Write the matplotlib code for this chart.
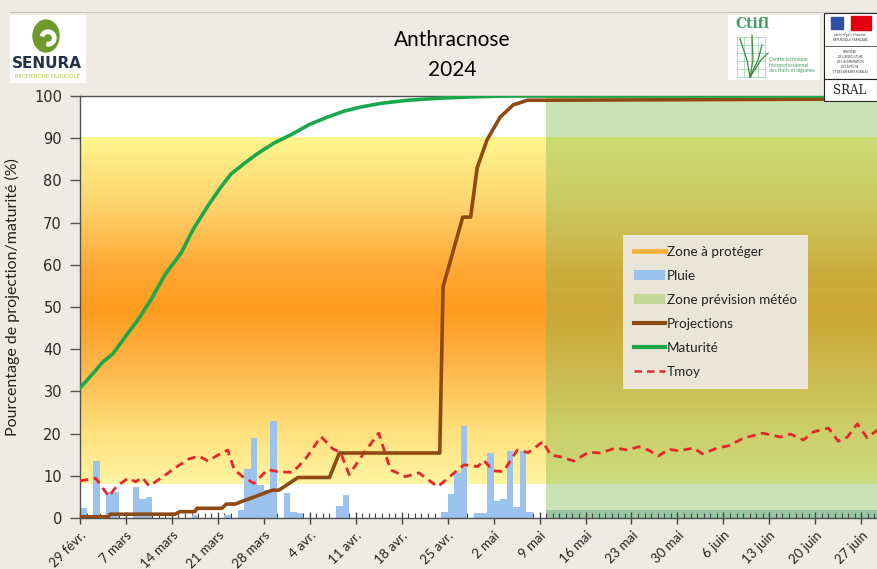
import numpy as np
import matplotlib
matplotlib.use('Agg')
import matplotlib.pyplot as plt
from matplotlib.colors import LinearSegmentedColormap
from matplotlib.lines import Line2D
from matplotlib.patches import Patch, Rectangle, Ellipse, Wedge

plt.rcParams['font.family'] = ['Lato', 'DejaVu Sans']

# ---- data (days counted from 29 Feb 2024) ----
tick_labels = ['29 févr.', '7 mars', '14 mars', '21 mars', '28 mars', '4 avr.',
               '11 avr.', '18 avr.', '25 avr.', '2 mai', '9 mai', '16 mai',
               '23 mai', '30 mai', '6 juin', '13 juin', '20 juin', '27 juin']

pluie_jours = [0, 2, 4, 5, 8, 9, 10, 17, 22, 24, 25, 26, 27, 28, 29, 31, 32, 33,
               39, 40, 55, 56, 57, 58, 60, 61, 62, 63, 64, 65, 66, 67, 68]
pluie_mm = [2.3, 13.5, 6.2, 6.2, 7.4, 4.4, 4.9, 0.6, 0.7, 1.9, 11.5, 19.0, 7.8, 6.6,
            23.0, 6.0, 1.5, 1.1, 2.8, 5.4, 1.5, 5.6, 10.6, 21.8, 1.1, 1.1, 15.5,
            4.1, 4.4, 15.9, 2.5, 15.9, 1.5]

tmoy_jours = [0, 2.4, 4.4, 5.5, 7.3, 8.5, 9.5, 10.5, 12.3, 14.6, 16.6, 18.1, 19.5,
              21, 22.5, 23.5, 24.8, 26.5, 28.6, 30.1, 32.4, 34.4, 36.7, 38.5, 39.7,
              41, 43.2, 45.5, 47.3, 49.6, 51.6, 54.5, 56, 58.5, 60.6, 61.5, 62.9,
              64.5, 66.6, 68.3, 70.5, 71.7, 73.2, 75.2, 76.3, 77.5, 79.3, 81.6,
              83.4, 85.1, 86.6, 88.1, 89.7, 91.2, 93.5, 94.8, 97.1, 98.8, 101,
              104, 106.7, 108.2, 110.2, 111.7, 114, 115.5, 116.9, 118.4, 119.9, 121.5]
tmoy = [8.8, 9.4, 5.1, 7.4, 9.4, 8.6, 9.6, 7.6, 9.4, 12.0, 14.0, 14.7, 13.5, 14.9,
        16.1, 11.4, 9.8, 8.2, 11.5, 11.0, 10.8, 14.1, 19.3, 16.4, 15.5, 10.3, 15.3,
        20.1, 11.4, 9.8, 10.7, 7.4, 9.4, 12.6, 12.2, 13.7, 11.2, 11.0, 16.1, 15.5,
        18.1, 14.9, 14.5, 13.5, 14.5, 15.6, 15.4, 16.6, 16.1, 16.9, 16.1, 14.7,
        16.3, 15.9, 16.6, 15.2, 16.6, 17.1, 18.9, 20.1, 19.2, 19.9, 18.5, 20.4,
        21.3, 18.2, 19.2, 22.3, 19.0, 20.9]

maturite_jours = [0, 2, 3.5, 5, 7.3, 8.8, 10.8, 13, 15.4, 17.2, 19.5, 21.5, 23, 25,
                  27, 29.5, 32.6, 35, 37.7, 40.2, 42.8, 46, 50, 55, 60, 65, 121.5]
maturite = [30.8, 34.3, 37.0, 38.9, 43.8, 46.9, 51.7, 57.8, 62.8, 68.3, 74.0, 78.5,
            81.5, 84.0, 86.3, 88.8, 91.2, 93.3, 95.0, 96.4, 97.4, 98.3, 99.0, 99.5,
            99.8, 100.0, 100.0]

proj_jours = [0, 4.3, 4.6, 14.5, 15.2, 17.5, 17.8, 21.6, 22.3, 23.6, 29.3, 30.3,
              33.2, 38.0, 39.5, 54.8, 55.3, 58.3, 59.5, 60.5, 62.0, 64.0, 66.0,
              68.2, 71.0, 121.5]
projections = [0.3, 0.3, 0.9, 0.9, 1.5, 1.5, 2.3, 2.3, 3.3, 3.3, 6.6, 6.6, 9.6,
               9.6, 15.4, 15.4, 54.8, 71.3, 71.3, 83.0, 89.6, 95.0, 97.9, 99.0,
               99.0, 99.3]

zone_bas, zone_haut = 8, 90      # zone à protéger
prevision_debut = 71             # 10 mai
jour_max = 121.4

W, H = 877, 569


def px_box(x0, y0, x1, y1):
    # pixel box -> figure fraction [left, bottom, width, height]
    return [x0 / W, 1 - y1 / H, (x1 - x0) / W, (y1 - y0) / H]


fig = plt.figure(figsize=(W / 100, H / 100), dpi=100)
fig.patch.set_facecolor('#EDEBE3')
ax = fig.add_axes(px_box(80, 96, 877, 518))
ax.set_facecolor('white')

# orange gradient for the zone to protect
cmap = LinearSegmentedColormap.from_list('zone', [
    (0.0, '#FFF5A2'), (0.15, '#FFE07C'), (0.35, '#FFB447'), (0.5, '#FF9B20'),
    (0.62, '#FFA733'), (0.8, '#FFD36C'), (1.0, '#FFF68E')])
grad = np.linspace(0, 1, 256).reshape(-1, 1)
ax.imshow(grad, extent=[0, jour_max, zone_bas, zone_haut], origin='lower',
          aspect='auto', cmap=cmap, zorder=0)

# forecast zone
ax.axvspan(prevision_debut, jour_max, color='#84B951', alpha=0.42, lw=0, zorder=1)
ax.fill_between([prevision_debut, jour_max], 0, 1.8, color='#5FA88A', alpha=0.45,
                lw=0, zorder=1.1)

ax.bar(pluie_jours, pluie_mm, width=1, align='edge', color='#9CC3EE', zorder=2)
ax.plot(tmoy_jours, tmoy, color='#E8252A', lw=2, ls=(0, (3, 2)), zorder=3)
ax.plot(proj_jours, projections, color='#8E4A12', lw=2.6, zorder=4,
        solid_joinstyle='round')
ax.plot(maturite_jours, maturite, color='#1BA84A', lw=2.6, zorder=5,
        solid_joinstyle='round')

ax.set_xlim(0, jour_max)
ax.set_ylim(0, 100)
ax.set_xticks(np.arange(0, 120, 7))
ax.set_xticklabels(tick_labels, rotation=45, ha='right', va='top',
                   rotation_mode='anchor', fontsize=9.5, color='#222222')
ax.set_xticks(np.arange(0, 122, 1), minor=True)
ax.set_yticks(np.arange(0, 101, 10))
for t in ax.get_yticklabels():
    t.set_family('DejaVu Sans')
    t.set_fontsize(10.5)
    t.set_color('#2A2A2A')
ax.tick_params(axis='x', which='major', direction='inout', length=8, width=1,
               color='#444444', pad=4)
ax.tick_params(axis='x', which='minor', direction='in', length=3.5, width=0.8,
               color='#444444')
ax.tick_params(axis='y', direction='out', length=7, width=1, color='#555555', pad=6)
for s in ['left', 'bottom', 'top']:
    ax.spines[s].set_color('#505050')
    ax.spines[s].set_linewidth(1)
ax.spines['right'].set_visible(False)

ax.set_ylabel('Pourcentage de projection/maturité (%)', fontsize=11.5, color='#222222')
ax.yaxis.set_label_coords(-0.075, 0.524)

handles = [
    Line2D([], [], color='#F7B23B', lw=3.5),
    Patch(facecolor='#9CC3EE', edgecolor='none'),
    Patch(facecolor='#C4D79B', edgecolor='none'),
    Line2D([], [], color='#8E4A12', lw=3),
    Line2D([], [], color='#1BA84A', lw=3),
    Line2D([], [], color='#E8252A', lw=1.8, ls=(0, (3, 2))),
]
labels = ['Zone à protéger', 'Pluie', 'Zone prévision météo', 'Projections',
          'Maturité', 'Tmoy']
leg = ax.legend(handles, labels, loc='upper left', bbox_to_anchor=(0.681, 0.671),
                borderaxespad=0, fontsize=9.7, handlelength=2.3, handleheight=0.8,
                handletextpad=0.2, labelspacing=0.9, borderpad=0.8,
                fancybox=False, frameon=True)
leg.get_frame().set_facecolor('#E9E6D8')
leg.get_frame().set_edgecolor('none')
leg.get_frame().set_alpha(1)
leg.set_zorder(10)
for t in leg.get_texts():
    t.set_color('#222222')

# title
fig.text(452 / W, 1 - 40 / H, 'Anthracnose', ha='center', va='center', fontsize=15)
fig.text(452 / W, 1 - 70 / H, '2024', ha='center', va='center', fontsize=15)
fig.add_artist(Line2D([10 / W, 1], [1 - 12 / H] * 2, color='#C4C4C4', lw=0.8))

# SENURA logo
lax = fig.add_axes(px_box(10, 15, 86, 83))
lax.set_xlim(0, 76)
lax.set_ylim(68, 0)
lax.axis('off')
lax.add_patch(Rectangle((0, 0), 76, 68, color='white'))
lax.add_patch(Ellipse((36, 21), 26, 32, color='#6C9B2C'))
lax.add_patch(Wedge((38, 23), 8, 200, 100, width=3.5, color='white'))
lax.text(37, 49, 'SENURA', ha='center', va='center', fontsize=11,
         fontweight='bold', color='#22324A', family='DejaVu Sans')
lax.text(37, 62, 'RECHERCHE NUCICOLE', ha='center', va='center', fontsize=4.3,
         color='#A8C63C')

# Ctifl logo
cax = fig.add_axes(px_box(728, 15, 820, 80))
cax.set_xlim(0, 92)
cax.set_ylim(65, 0)
cax.axis('off')
cax.add_patch(Rectangle((0, 0), 92, 65, color='white'))
cax.text(7, 9, 'Ctifl', ha='left', va='center', fontsize=10, fontweight='bold',
         color='#3E9D5C', family='DejaVu Serif')
for gx in np.linspace(9, 37, 5):
    cax.plot([gx, gx], [22, 62], color='#A2D9BA', lw=0.6)
for gy in np.linspace(22, 62, 6):
    cax.plot([9, 37], [gy, gy], color='#A2D9BA', lw=0.6)
for tx, ty in [(12, 24), (24, 20), (34, 30), (40, 38)]:
    cax.plot([22, (22 + tx) / 2 + 2, tx], [62, 45, ty], color='#3D8A3E', lw=0.9)
cax.text(41, 50, 'Centre technique\ninterprofessionnel\ndes fruits et légumes',
         ha='left', va='center', fontsize=3.6, color='#3E9D5C', linespacing=1.2)

# ministry / SRAL logo
max_ = fig.add_axes(px_box(823, 12, 877, 102))
max_.set_xlim(0, 54)
max_.set_ylim(90, 0)
max_.axis('off')
max_.add_patch(Rectangle((0.5, 0.5), 53, 66, facecolor='white', edgecolor='#222222',
                         lw=0.8))
max_.add_patch(Rectangle((0.5, 67), 53, 22, facecolor='white', edgecolor='#222222',
                         lw=0.8))
max_.plot([0.5, 53.5], [34, 34], color='#222222', lw=0.5)
max_.add_patch(Rectangle((8, 5), 12, 12, color='#2F4EA1'))
max_.add_patch(Rectangle((28, 4), 20, 14, color='#E1000F'))
max_.text(27, 23, 'Liberté • Égalité • Fraternité', ha='center', va='center',
          fontsize=1.8, color='#333333')
max_.text(27, 28, 'RÉPUBLIQUE FRANÇAISE', ha='center', va='center', fontsize=2.2,
          color='#333333')
max_.text(27, 50, "MINISTÈRE\nDE L'AGRICULTURE\nDE L'ALIMENTATION\nDE LA PÊCHE\n"
          "ET DES AFFAIRES RURALES", ha='center', va='center', fontsize=2,
          color='#333333', linespacing=1.3)
max_.text(27, 78, 'SRAL', ha='center', va='center', fontsize=8.5,
          family='DejaVu Serif', color='#222222')

fig.savefig('out.png', dpi=100, facecolor=fig.get_facecolor())
